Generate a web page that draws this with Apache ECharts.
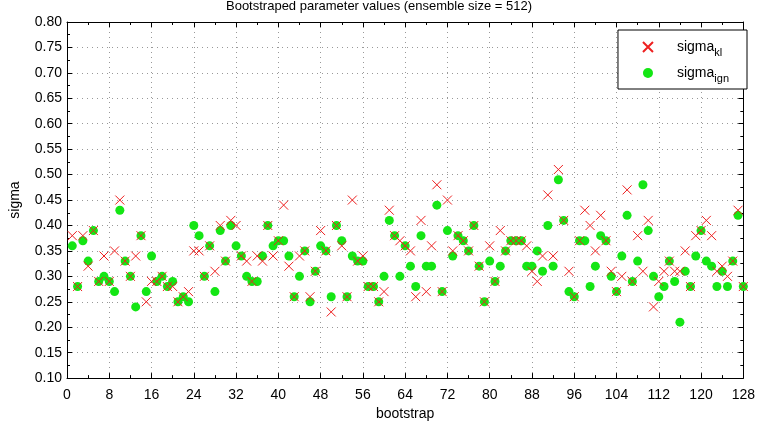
<!DOCTYPE html>
<html><head><meta charset="utf-8">
<script src="https://cdn.jsdelivr.net/npm/echarts@6/dist/echarts.min.js"></script>
<style>html,body{margin:0;padding:0;background:#fff}#c{width:758px;height:426px}</style>
</head><body><div id="c"></div>
<script>
const bootstrap = [1,2,3,4,5,6,7,8,9,10,11,12,13,14,15,16,17,18,19,20,21,22,23,24,25,26,27,28,29,30,31,32,33,34,35,36,37,38,39,40,41,42,43,44,45,46,47,48,49,50,51,52,53,54,55,56,57,58,59,60,61,62,63,64,65,66,67,68,69,70,71,72,73,74,75,76,77,78,79,80,81,82,83,84,85,86,87,88,89,90,91,92,93,94,95,96,97,98,99,100,101,102,103,104,105,106,107,108,109,110,111,112,113,114,115,116,117,118,119,120,121,122,123,124,125,126,127,128];
const sigmaKl = [0.38,0.28,0.38,0.32,0.39,0.29,0.34,0.29,0.35,0.45,0.33,0.30,0.34,0.38,0.25,0.29,0.29,0.30,0.28,0.28,0.25,0.26,0.27,0.35,0.35,0.30,0.36,0.31,0.40,0.33,0.41,0.40,0.34,0.33,0.29,0.34,0.33,0.40,0.34,0.37,0.44,0.32,0.26,0.34,0.35,0.26,0.31,0.39,0.35,0.23,0.40,0.36,0.26,0.45,0.33,0.34,0.28,0.28,0.25,0.27,0.43,0.38,0.37,0.36,0.35,0.26,0.41,0.27,0.36,0.48,0.27,0.45,0.35,0.38,0.37,0.35,0.40,0.32,0.25,0.36,0.29,0.39,0.35,0.37,0.37,0.37,0.36,0.31,0.29,0.34,0.46,0.34,0.51,0.41,0.31,0.26,0.37,0.43,0.40,0.35,0.42,0.37,0.31,0.27,0.30,0.47,0.29,0.38,0.31,0.41,0.24,0.29,0.31,0.33,0.31,0.31,0.35,0.28,0.38,0.39,0.41,0.38,0.31,0.32,0.30,0.33,0.43,0.28];
const sigmaIgn = [0.36,0.28,0.37,0.33,0.39,0.29,0.30,0.29,0.27,0.43,0.33,0.30,0.24,0.38,0.27,0.34,0.29,0.30,0.28,0.29,0.25,0.26,0.25,0.40,0.38,0.30,0.36,0.27,0.39,0.33,0.40,0.36,0.34,0.30,0.29,0.29,0.34,0.40,0.36,0.37,0.37,0.34,0.26,0.30,0.35,0.25,0.31,0.36,0.35,0.26,0.40,0.37,0.26,0.34,0.33,0.33,0.28,0.28,0.25,0.30,0.41,0.38,0.30,0.36,0.32,0.28,0.38,0.32,0.32,0.44,0.27,0.39,0.34,0.38,0.37,0.35,0.40,0.32,0.25,0.33,0.29,0.32,0.35,0.37,0.37,0.37,0.32,0.32,0.35,0.31,0.40,0.32,0.49,0.41,0.27,0.26,0.37,0.37,0.28,0.32,0.38,0.37,0.30,0.27,0.34,0.42,0.29,0.33,0.48,0.39,0.30,0.26,0.28,0.33,0.29,0.21,0.31,0.28,0.34,0.39,0.33,0.32,0.28,0.31,0.28,0.33,0.42,0.28];
const xTicks = {min: 0, max: 128, interval: 8};
const yTicks = {min: 0.10, max: 0.80, interval: 0.05};
const titleText = 'Bootstraped parameter values (ensemble size = 512)';

const FONT = 'Liberation Sans, Arial, sans-serif';
const chart = echarts.init(document.getElementById('c'), null, {renderer: 'canvas'});
const axisCommon = {
  axisLine: {show: true, onZero: false, lineStyle: {color: '#000', width: 1}},
  axisTick: {show: true, inside: true, length: 5, lineStyle: {color: '#000'}},
  minorTick: {show: true, splitNumber: 2, length: 3, lineStyle: {color: '#000'}}
};
const gridLine = {show: true, lineStyle: {color: '#999', type: [1, 4], width: 1}};
const crossSym = 'path://M0,0L10,10M10,0L0,10';
chart.setOption({
  animation: false,
  backgroundColor: '#fff',
  title: {text: titleText, left: 'center', top: 0, padding: [0, 5, 0, 5],
    textStyle: {fontFamily: FONT, fontSize: 13, fontWeight: 'normal', color: '#000'}},
  grid: {left: 56.5, right: 14, top: 22, bottom: 40},
  legend: {
    orient: 'vertical', right: 11, top: 30,
    backgroundColor: '#fff', borderColor: '#000', borderWidth: 1, borderRadius: 0,
    padding: [10, 18, 5, 24], itemWidth: 48, itemHeight: 10, itemGap: 8,
    data: ['kl', 'ign'],
    formatter: n => '{a|sigma}{b|' + n + '}',
    textStyle: {fontFamily: FONT, color: '#000',
      rich: {a: {fontSize: 14, fontFamily: FONT, color: '#000'},
             b: {fontSize: 11, fontFamily: FONT, color: '#000', padding: [11, 0, 0, 0]}}}
  },
  xAxis: [
    Object.assign({type: 'value', min: xTicks.min, max: xTicks.max, interval: xTicks.interval, position: 'bottom',
      name: 'bootstrap', nameLocation: 'middle', nameGap: 27,
      nameTextStyle: {fontFamily: FONT, fontSize: 14, color: '#000'},
      axisLabel: {fontFamily: FONT, fontSize: 14, color: '#000', margin: 10},
      splitLine: gridLine}, axisCommon),
    Object.assign({type: 'value', min: xTicks.min, max: xTicks.max, interval: xTicks.interval, position: 'top',
      axisLabel: {show: false}, splitLine: {show: false}}, axisCommon)
  ],
  yAxis: [
    Object.assign({type: 'value', min: yTicks.min, max: yTicks.max, interval: yTicks.interval, position: 'left',
      name: 'sigma', nameLocation: 'middle', nameGap: 45,
      nameTextStyle: {fontFamily: FONT, fontSize: 14, color: '#000'},
      axisLabel: {fontFamily: FONT, fontSize: 14, color: '#000', margin: 5, formatter: v => v.toFixed(2)},
      splitLine: gridLine}, axisCommon),
    Object.assign({type: 'value', min: yTicks.min, max: yTicks.max, interval: yTicks.interval, position: 'right',
      axisLabel: {show: false}, splitLine: {show: false}}, axisCommon)
  ],
  series: [
    {name: 'kl', type: 'scatter', z: 4, symbol: crossSym, symbolSize: 9,
      itemStyle: {color: 'rgba(0,0,0,0)', borderColor: '#ee2020', borderWidth: 1, opacity: 1},
      data: bootstrap.map((b, i) => [b, sigmaKl[i]])},
    {name: 'ign', type: 'scatter', z: 3, symbol: 'circle', symbolSize: 9,
      itemStyle: {color: '#14e614', opacity: 1},
      data: bootstrap.map((b, i) => [b, sigmaIgn[i]])}
  ]
});
</script></body></html>
